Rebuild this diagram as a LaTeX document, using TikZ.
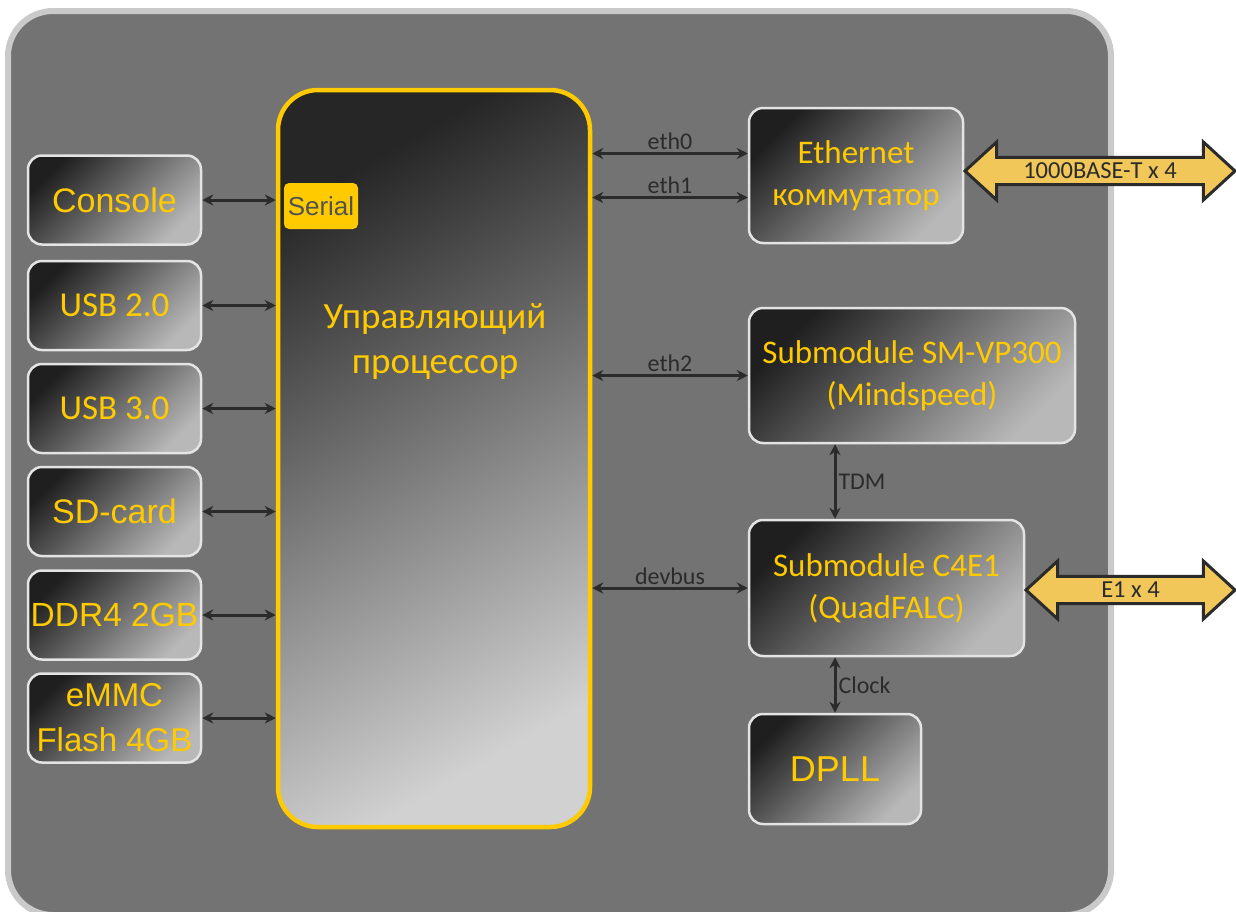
\documentclass[tikz,border=0pt]{standalone}
\usepackage{fontspec}
\setmainfont{Liberation Sans}
\newfontfamily\calibri{Carlito}
\usetikzlibrary{arrows.meta,shapes.arrows}
\definecolor{boardgray}{HTML}{737373}
\definecolor{boardrim}{HTML}{CACACA}
\definecolor{boxrim}{HTML}{E4E4E4}
\definecolor{chipyellow}{HTML}{FFCA00}
\definecolor{wire}{HTML}{2B2B2B}
\definecolor{gold}{HTML}{F2C75A}
\begin{document}
\begin{tikzpicture}[x=1pt,y=-1pt,>={Stealth[length=11pt,width=11pt]},
  unit/.style={draw=boxrim, line width=2.5pt, rounded corners=14pt,
    top color=black!88, bottom color=black!28, shading angle=45,
    text=chipyellow, align=center, inner sep=0pt},
  arialtxt/.style={font=\fontsize{34}{44}\selectfont},
  calitxt/.style={font=\calibri\fontsize{33}{42}\selectfont},
  link/.style={<->, draw=wire, line width=3pt},
  tag/.style={text=wire, font=\calibri\fontsize{24}{28}\selectfont, inner sep=2pt},
  bigarrow/.style={double arrow, draw=wire, line width=3pt, fill=gold,
    minimum width=58pt, double arrow head extend=14pt, double arrow tip angle=85,
    inner sep=3pt, text=wire, font=\calibri\fontsize{24.5}{28}\selectfont}]
\useasboundingbox (0,0) rectangle (1236,911);

% board
\draw[draw=boardrim, fill=boardgray, line width=6pt, rounded corners=45pt] (8,11) rectangle (1111,915);

% processor
\node[draw=chipyellow, line width=4.5pt, rounded corners=40pt, top color=black!85, bottom color=black!18,
  shading angle=30, minimum width=312pt, minimum height=737pt] (cpu) at (434,458.5) {};
\node[font=\calibri\fontsize{37}{45}\selectfont, text=chipyellow, align=center] (cputext) at (435,342) {Управляющий\\процессор};
\node[fill=chipyellow, rounded corners=5pt, minimum width=74pt, minimum height=46pt, inner sep=0pt,
  text=black!68, font=\fontsize{26}{30}\selectfont] (serial) at (321,206) {Serial};

% left side
\node[unit, arialtxt, minimum width=173pt, minimum height=89pt] (console) at (114.5,200) {Console};
\node[unit, calitxt, font=\calibri\fontsize{35}{42}\selectfont, minimum width=173pt, minimum height=89pt] (usbtwo) at (114.5,305.5) {USB 2.0};
\node[unit, calitxt, font=\calibri\fontsize{35}{42}\selectfont, minimum width=173pt, minimum height=89pt] (usbthree) at (114.5,408.5) {USB 3.0};
\node[unit, arialtxt, minimum width=173pt, minimum height=89pt] (sdcard) at (114.5,511.5) {SD-card};
\node[unit, arialtxt, font=\fontsize{33.5}{44}\selectfont, minimum width=173pt, minimum height=89pt] (ddr) at (114.5,615) {DDR4 2GB};
\node[unit, arialtxt, font=\fontsize{33}{45}\selectfont, minimum width=173pt, minimum height=89pt] (emmc) at (114.5,718) {eMMC\\Flash 4GB};

\draw[link] (console.east) -- (console.east -| cpu.west);
\draw[link] (usbtwo.east) -- (usbtwo.east -| cpu.west);
\draw[link] (usbthree.east) -- (usbthree.east -| cpu.west);
\draw[link] (sdcard.east) -- (sdcard.east -| cpu.west);
\draw[link] (ddr.east) -- (ddr.east -| cpu.west);
\draw[link] (emmc.east) -- (emmc.east -| cpu.west);

% right side
\node[unit, calitxt, minimum width=214pt, minimum height=135pt] (ether) at (856,175.5) {Ethernet\\коммутатор};
\node[unit, calitxt, minimum width=326pt, minimum height=135pt] (vp) at (912,375.5) {Submodule SM-VP300\\(Mindspeed)};
\node[unit, calitxt, minimum width=275pt, minimum height=136pt] (cfour) at (886.5,588) {Submodule C4E1\\(QuadFALC)};
\node[unit, arialtxt, font=\fontsize{36}{44}\selectfont, minimum width=172pt, minimum height=110pt] (dpll) at (835,769) {DPLL};

\draw[link] ([yshift=22pt]cpu.east |- ether.west) -- node[tag, above] (ethzero) {eth0} ([yshift=22pt]ether.west);
\draw[link] ([yshift=-22pt]cpu.east |- ether.west) -- node[tag, above] (ethone) {eth1} ([yshift=-22pt]ether.west);
\draw[link] (cpu.east |- vp.west) -- node[tag, above] (ethtwo) {eth2} (vp.west);
\draw[link] (cpu.east |- cfour.west) -- node[tag, above] (devbus) {devbus} (cfour.west);
\draw[link] (vp.south -| dpll.north) -- node[tag, right] (tdm) {TDM} (cfour.north -| dpll.north);
\draw[link] (cfour.south -| dpll.north) -- node[tag, right] (clock) {Clock} (dpll.north);

% line interfaces
\node[bigarrow, minimum height=270pt] (gige) at (1100,171) {1000BASE-T x 4};
\node[bigarrow, minimum height=209pt] (eone) at (1130.5,590) {E1 x 4};
\end{tikzpicture}
\end{document}
